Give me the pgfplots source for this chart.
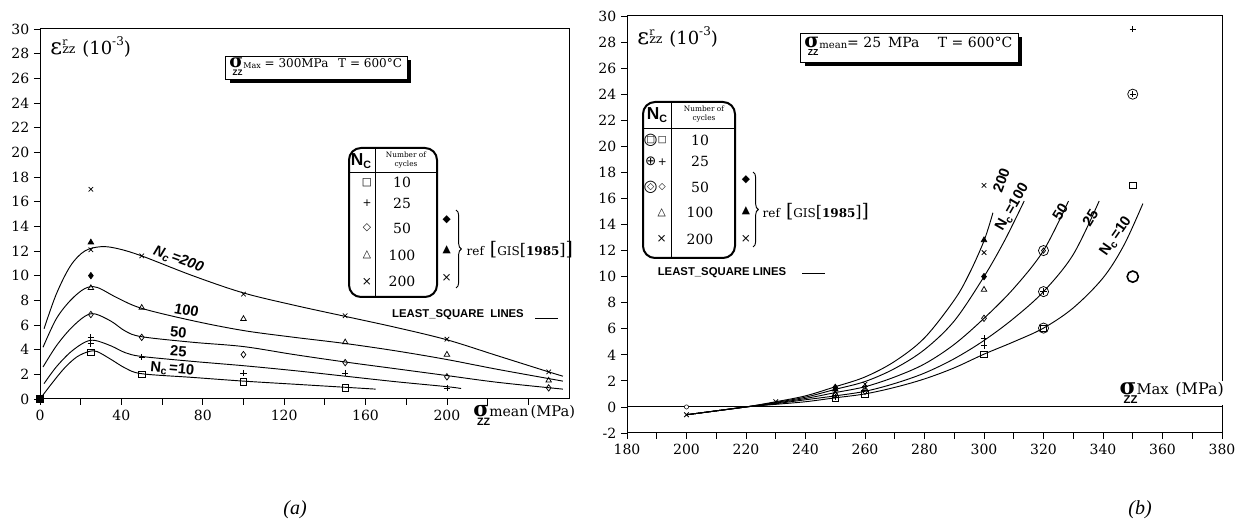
\documentclass[border=0pt]{standalone}
\usepackage{pgfplots}
\pgfplotsset{compat=1.18}
\usepackage{fontspec}
\setmainfont{DejaVu Serif}
\setsansfont{Liberation Sans}
\newfontfamily\symf{DejaVu Sans}
\newfontfamily\capf{Liberation Serif}
\usetikzlibrary{decorations.pathreplacing}
\newcommand{\fs}[1]{\fontsize{#1}{#1}\selectfont}
% sigma with word beside and ZZ underneath
\newcommand{\sig}[3]{{\fs{#1}\makebox[0pt][l]{\hspace{0.18em}\raisebox{-0.42em}{\fs{#3}\sffamily\bfseries ZZ}}\bfseries σ}\kern0.03em\raisebox{-0.05em}{\fs{#3}#2}}
\newcommand{\epslab}{{\fs{17}ε}\kern0.02em\makebox[0pt][l]{\raisebox{0.62em}{\fs{8}r}}\raisebox{0.05em}{\fs{9.5}zz}\enspace{\fs{13.5}(10\raisebox{0.45em}{\fs{9}-3})}}
\pgfplotsset{
  base/.style={
    scale only axis, tick align=outside, tick pos=left,
    major tick length=4.5pt,
    tick style={black, line width=0.6pt},
    axis line style={line width=0.75pt},
    tick label style={font=\fs{10.5}},
    /pgf/number format/assume math mode=true,
    clip=false,
  },
  crv/.style={smooth, tension=0.55, line width=0.7pt, black, no marks},
  pt/.style={only marks, black, mark size=2.4pt, mark options={solid, line width=0.55pt, fill=black}},
}
\begin{document}
\begin{tikzpicture}
\useasboundingbox (0,0) rectangle (939pt,-397.5pt);
% ================= (a) =================
\begin{axis}[base,
  at={(30pt,-299.25pt)}, anchor=south west,
  width=396.75pt, height=277.5pt,
  xmin=0, xmax=260, ymin=0, ymax=30,
  xtick={0,20,...,240}, xticklabels={0,,40,,80,,120,,160,,200,,},
  ytick={0,2,...,30},
]
\addplot[crv] coordinates {(2,5.7)(8,8.5)(15,10.8)(22,12.0)(30,12.35)(38,12.2)(50,11.6)(75,10.0)(100,8.6)(125,7.6)(150,6.7)(175,5.8)(200,4.8)(225,3.5)(250,2.2)(257,1.85)};
\addplot[crv] coordinates {(1.5,4.2)(8,6.5)(15,8.0)(22,8.95)(28,9.05)(38,8.2)(50,7.35)(75,6.35)(100,5.55)(125,5.0)(150,4.5)(175,3.9)(200,3.2)(225,2.4)(257,1.45)};
\addplot[crv] coordinates {(1.5,2.6)(8,4.3)(15,5.7)(22,6.7)(27,6.9)(35,6.3)(42,5.5)(50,5.05)(75,4.6)(100,4.25)(125,3.6)(150,3.0)(175,2.45)(200,1.9)(225,1.35)(257,0.8)};
\addplot[crv] coordinates {(2,1.25)(8,2.6)(15,3.8)(22,4.6)(27,4.75)(35,4.3)(42,3.75)(50,3.45)(75,3.05)(100,2.7)(125,2.3)(150,1.85)(175,1.4)(200,1.0)(207,0.85)};
\addplot[crv] coordinates {(0,0)(6,1.3)(12,2.5)(18,3.4)(24,3.85)(28,3.85)(35,3.2)(42,2.5)(50,2.05)(75,1.75)(100,1.45)(125,1.2)(140,1.05)(165,0.8)};
\addplot[pt, mark=square*, mark size=2.6pt] coordinates {(0,0)};
\addplot[pt, mark=square] coordinates {(25,3.8)(50,2.0)(100,1.4)(150,0.9)};
\addplot[pt, mark=+] coordinates {(25,5.0)(25,4.5)(50,3.4)(100,2.1)(150,2.1)(200,0.9)};
\addplot[pt, mark=diamond] coordinates {(25,6.85)(50,5.0)(100,3.6)(150,2.95)(200,1.8)(250,0.9)};
\addplot[pt, mark=triangle] coordinates {(25,9.0)(50,7.4)(100,6.5)(150,4.6)(200,3.6)(250,1.5)};
\addplot[pt, mark=x] coordinates {(25,12.1)(50,11.6)(100,8.5)(150,6.75)(200,4.85)(250,2.2)};
\addplot[pt, mark=x] coordinates {(25,17.0)};
\addplot[pt, mark=diamond*] coordinates {(25,10.0)};
\addplot[pt, mark=triangle*] coordinates {(25,12.7)};
\node[rotate=-20, font=\fs{11}\sffamily\bfseries\itshape] at (axis cs:68,11.3) {N\raisebox{-0.2em}{\fs{8}c}\,=200};
\node[rotate=-10, font=\fs{11}\sffamily\bfseries] at (axis cs:72,7.2) {100};
\node[rotate=-5, font=\fs{11}\sffamily\bfseries] at (axis cs:68,5.4) {50};
\node[rotate=-4, font=\fs{11}\sffamily\bfseries] at (axis cs:68,3.85) {25};
\node[rotate=-5, font=\fs{11}\sffamily\bfseries] at (axis cs:65,2.4) {N\raisebox{-0.2em}{\fs{8}c}\,=10};
\end{axis}
% ================= (b) =================
\begin{axis}[base,
  at={(470.25pt,-324.75pt)}, anchor=south west,
  width=446.25pt, height=312.75pt,
  xmin=180, xmax=380, ymin=-2, ymax=30,
  xtick={180,190,...,380}, xticklabels={180,,200,,220,,240,,260,,280,,300,,320,,340,,360,,380},
  ytick={-2,0,...,30},
]
\addplot[black, line width=0.7pt] coordinates {(180,0)(380,0)};
\addplot[crv] coordinates {(200,-0.6)(210,-0.3)(220,0.0)(230,0.4)(240,0.85)(250,1.55)(260,2.3)(270,3.5)(280,5.3)(290,8.2)(295,10.2)(300,12.75)(303,14.9)};
\addplot[crv] coordinates {(200,-0.6)(210,-0.3)(220,0.0)(230,0.35)(240,0.75)(250,1.35)(260,1.95)(270,2.95)(280,4.4)(290,6.6)(300,10.0)(307,12.8)(313.5,15.8)};
\addplot[crv] coordinates {(200,-0.6)(210,-0.3)(220,0.0)(230,0.3)(240,0.65)(250,1.1)(260,1.55)(270,2.3)(280,3.3)(290,4.8)(300,6.8)(310,9.1)(320,12.0)(328.4,15.8)};
\addplot[crv] coordinates {(200,-0.6)(210,-0.3)(220,0.0)(230,0.25)(240,0.55)(250,0.85)(260,1.2)(270,1.8)(280,2.6)(290,3.7)(300,5.1)(310,6.8)(320,8.85)(330,11.7)(338.7,15.8)};
\addplot[crv] coordinates {(200,-0.6)(210,-0.3)(220,0.0)(230,0.2)(240,0.4)(250,0.7)(260,1.0)(270,1.5)(280,2.15)(290,3.0)(300,4.05)(310,5.0)(320,6.05)(330,7.6)(340,9.9)(347,12.4)(353.4,15.6)};
\addplot[pt, mark=*, mark size=1.6pt, mark options={fill=white}] coordinates {(200,0)};
\addplot[pt, mark=x] coordinates {(200,-0.6)(230,0.4)(250,1.2)(260,1.75)(300,11.85)(300,17.0)};
\addplot[pt, mark=square] coordinates {(250,0.65)(260,1.0)(300,4.05)(350,17.0)};
\addplot[pt, mark=+] coordinates {(250,0.75)(260,1.6)(300,5.25)(300,4.7)(350,29.0)};
\addplot[pt, mark=diamond] coordinates {(250,0.9)(260,1.2)(300,6.8)};
\addplot[pt, mark=triangle] coordinates {(250,1.0)(260,1.4)(300,9.0)};
\addplot[pt, mark=diamond*] coordinates {(250,1.5)(300,10.0)};
\addplot[pt, mark=triangle*] coordinates {(250,1.35)(300,12.8)};
% circled points
\addplot[pt, mark=o, mark size=3.8pt] coordinates {(320,12.0)(320,8.85)(320,6.05)(350,24.0)};
\addplot[pt, mark=diamond, mark size=2.0pt] coordinates {(320,12.0)};
\addplot[pt, mark=+, mark size=2.4pt] coordinates {(320,8.85)(350,24.0)};
\addplot[pt, mark=square, mark size=2.2pt] coordinates {(320,6.05)};
\addplot[pt, mark=o, mark size=4.2pt, mark options={line width=1.2pt}] coordinates {(350,10.0)};
\node[rotate=70, font=\fs{11}\sffamily\bfseries] at (axis cs:305.8,17.4) {200};
\node[rotate=60, font=\fs{11}\sffamily\bfseries] at (axis cs:309.6,15.3) {N\raisebox{-0.2em}{\fs{8}c}\,=100};
\node[rotate=58, font=\fs{11}\sffamily\bfseries] at (axis cs:325.6,15.0) {50};
\node[rotate=58, font=\fs{11}\sffamily\bfseries] at (axis cs:335.7,14.5) {25};
\node[rotate=55, font=\fs{11}\sffamily\bfseries] at (axis cs:344.4,13.1) {N\raisebox{-0.2em}{\fs{8}c}\,=10};
\end{axis}
% ================= decorations =================
\begin{scope}[x=0.75pt,y=-0.75pt]
% y labels
\node[anchor=west, inner sep=0pt] at (50,47) {\epslab};
\node[anchor=west, inner sep=0pt] at (637,37) {\epslab};
% x labels
\node[anchor=west, inner sep=0pt] at (473,415) {\sig{16}{\fs{10.5}mean}{8}\,{\fs{11}(MPa)}};
\node[anchor=west, inner sep=1pt, fill=white] at (1118,393) {\sig{17}{\fs{11}Max}{8.5}\enspace{\fs{12}(MPa)}};
% title boxes
\fill[black] (230,60) rectangle (411,83);
\draw[fill=white, line width=0.6pt] (225,56) rectangle (407,79);
\node[anchor=west, inner sep=0pt] at (229,66.5) {\fs{9}\sig{14}{\fs{6}Max}{6} = 300MPa\enspace\ T = 600°C};
\fill[black] (805,37) rectangle (1022,66);
\draw[fill=white, line width=0.6pt] (800,33) rectangle (1018,62);
\node[anchor=west, inner sep=0pt] at (804,46.5) {\fs{10.5}\sig{15}{\fs{7.5}mean}{6.5}= 25\, MPa\quad\ T = 600°C};
% ---- legend (a)
\draw[line width=1.5pt, rounded corners=9pt] (349,148) rectangle (437,297);
\draw[line width=0.6pt] (375,148) -- (375,297);
\draw[line width=0.6pt] (349,172) -- (437,172);
\node at (361,161) {\fs{13}\sffamily\bfseries N\raisebox{-0.15em}{\fs{8}C}};
\node[align=center, font=\fs{5.5}, inner sep=0pt] at (406,160) {Number of\\[1pt]cycles};
\node at (367,182.7) {\symf\fs{8}□};
\node at (367,203) {\symf\fs{8}+};
\node at (367,228) {\symf\fs{8}◇};
\node at (367,255) {\symf\fs{8}△};
\node at (367,281.7) {\symf\fs{9}×};
\node at (402,182.7) {\fs{10.5}10};
\node at (402,203) {\fs{10.5}25};
\node at (402,228) {\fs{10.5}50};
\node at (402,255) {\fs{10.5}100};
\node at (402,281.7) {\fs{10.5}200};
\node at (446.7,220) {\symf\fs{8}◆};
\node at (446.7,250) {\symf\fs{8}▲};
\node at (446.7,278) {\symf\fs{9}×};
\draw[decorate, decoration={brace, amplitude=4pt}, line width=0.7pt] (456,210) -- (456,288);
\node[anchor=west] at (462,250) {\fs{9}ref\enspace{\fs{14}[}GIS{\fs{12}[}\textbf{1985}{\fs{12}]}{\fs{14}]}};
\node at (458,315) {\fs{8.5}\sffamily\bfseries LEAST\_SQUARE\ \ LINES};
\draw[line width=0.6pt] (535,318) -- (558,318);
% ---- legend (b)
\draw[line width=1.5pt, rounded corners=9pt] (643,102) rectangle (735,258);
\draw[line width=0.6pt] (671.7,102) -- (671.7,258);
\draw[line width=0.6pt] (643,128.3) -- (735,128.3);
\node at (657,115) {\fs{13}\sffamily\bfseries N\raisebox{-0.15em}{\fs{8}C}};
\node[align=center, font=\fs{5.5}, inner sep=0pt] at (704,114) {Number of\\[1pt]cycles};
\node at (650.7,140) {\symf\fs{12}○};
\node at (650.7,140) {\symf\fs{7}□};
\node at (662.3,140) {\symf\fs{7}□};
\node at (650.7,161.7) {\symf\fs{10}⊕};
\node at (662.3,161.7) {\symf\fs{8}+};
\node at (650.7,187.3) {\symf\fs{12}○};
\node at (650.7,187.3) {\symf\fs{7}◇};
\node at (662.3,187.3) {\symf\fs{7}◇};
\node at (661.7,212.3) {\symf\fs{8}△};
\node at (661.7,239.3) {\symf\fs{9}×};
\node at (700,140) {\fs{10.5}10};
\node at (700,161.7) {\fs{10.5}25};
\node at (700,187.3) {\fs{10.5}50};
\node at (700,212.3) {\fs{10.5}100};
\node at (700,239.3) {\fs{10.5}200};
\node at (746,180) {\symf\fs{8}◆};
\node at (746,210.7) {\symf\fs{8}▲};
\node at (746,239.3) {\symf\fs{9}×};
\draw[decorate, decoration={brace, amplitude=4pt}, line width=0.7pt] (753,172) -- (753,247);
\node[anchor=west] at (758,212) {\fs{9}ref\enspace{\fs{14}[}GIS{\fs{12}[}\textbf{1985}{\fs{12}]}{\fs{14}]}};
\node at (722,273) {\fs{8.5}\sffamily\bfseries LEAST\_SQUARE LINES};
\draw[line width=0.6pt] (802,273) -- (825,273);
% captions
\node at (295,510) {\capf\itshape\fs{15}(a)};
\node at (1140,510) {\capf\itshape\fs{15}(b)};
\end{scope}
\end{tikzpicture}
\end{document}
